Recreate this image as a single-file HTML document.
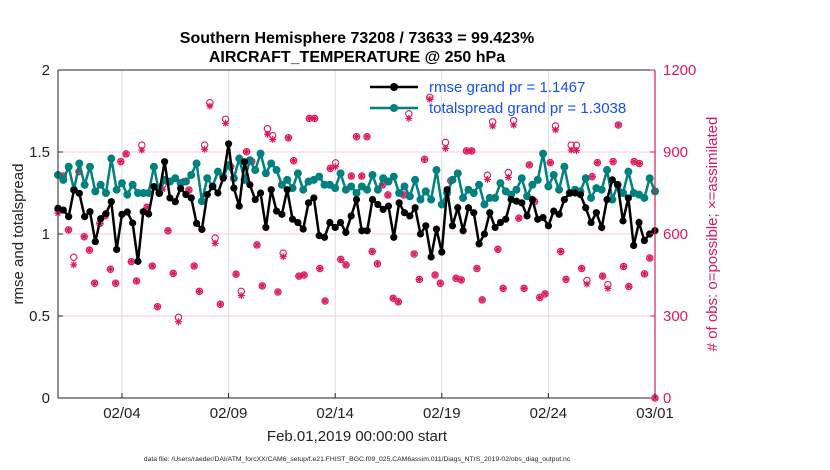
<!DOCTYPE html>
<html><head><meta charset="utf-8"><style>
body{margin:0;background:#fff;}
svg{display:block;font-family:"Liberation Sans",sans-serif;}
</style></head><body>
<svg id="chart" width="830" height="470"></svg>
<script>
const rmse=[1.157,1.146,1.106,1.268,1.248,1.106,1.136,0.953,1.093,1.124,1.197,0.906,1.12,1.134,1.067,0.833,1.136,1.122,1.289,1.248,1.441,1.22,1.197,1.278,1.24,1.22,1.065,1.028,1.24,
1.29,1.25,1.34,1.55,1.28,1.17,1.44,1.30,1.21,1.25,1.04,1.27,1.14,1.12,1.27,1.09,1.07,1.03,1.19,1.22,0.99,0.98,1.07,1.04,1.07,1.01,1.11,1.21,1.02,
1.02,1.21,1.18,1.15,1.17,0.98,1.19,1.13,1.11,1.16,1.00,1.05,0.86,1.03,0.89,1.27,1.05,1.16,1.02,1.16,1.13,0.94,1.00,1.13,1.04,1.07,1.09,1.21,1.20,
1.19,1.11,1.21,1.09,1.10,1.05,1.14,1.12,1.21,1.25,1.25,1.24,1.16,1.07,1.13,1.04,1.21,1.33,1.30,1.08,1.22,0.93,1.07,0.96,1.00,1.02];
const spread=[1.36,1.33,1.41,1.27,1.43,1.30,1.41,1.26,1.30,1.25,1.46,1.27,1.31,1.24,1.30,1.25,1.25,1.25,1.41,1.25,1.33,1.32,1.34,1.31,1.32,1.36,1.43,1.20,1.34,
1.29,1.38,1.35,1.42,1.34,1.46,1.33,1.45,1.39,1.49,1.37,1.43,1.39,1.30,1.33,1.28,1.37,1.27,1.32,1.33,1.35,1.30,1.30,1.28,1.37,1.27,1.29,1.25,1.29,
1.27,1.36,1.27,1.34,1.32,1.35,1.25,1.29,1.23,1.33,1.21,1.26,1.21,1.39,1.18,1.25,1.33,1.37,1.22,1.27,1.25,1.30,1.18,1.22,1.22,1.31,1.26,1.24,1.27,
1.34,1.23,1.30,1.33,1.49,1.29,1.36,1.27,1.41,1.25,1.27,1.26,1.34,1.22,1.28,1.27,1.39,1.21,1.30,1.25,1.38,1.25,1.24,1.22,1.34,1.26];
const obsAssim=[676,812,615,487,828,590,541,420,639,667,471,420,865,893,499,428,907,698,483,334,764,612,456,279,791,761,483,390,910,1068,
566,343,1005,846,453,375,901,865,560,410,965,946,388,517,952,868,446,450,1023,1023,474,355,840,846,507,487,812,956,
812,956,536,491,780,743,365,352,743,1023,527,434,873,1093,450,420,913,795,438,432,904,904,474,359,800,995,544,401,807,999,
658,401,853,719,368,381,861,981,536,434,907,905,474,417,810,861,446,401,865,999,481,408,865,858,454,512,0];
const obsPossible=[690,812,615,515,828,590,541,420,639,667,471,420,865,893,499,428,925,698,483,334,780,612,456,295,791,761,483,390,925,1080,
585,343,1020,846,453,390,901,865,560,410,985,960,388,530,952,868,446,450,1023,1023,474,355,840,860,507,487,812,956,
812,956,536,491,780,743,365,352,743,1040,527,434,873,1100,450,420,935,795,438,432,904,904,474,359,815,1010,544,401,825,1015,
658,401,853,719,368,381,861,995,536,434,925,925,474,430,810,861,446,415,865,999,481,408,865,858,454,512,0];
const xTickLabels=["02/04","02/09","02/14","02/19","02/24","03/01"];
const xTickDays=[3,8,13,18,23,28];
const yTickLabels=["0","0.5","1","1.5","2"];
const yTickVals=[0,0.5,1,1.5,2];
const y2TickVals=[0,300,600,900,1200];

const NS="http://www.w3.org/2000/svg";
const svg=document.getElementById('chart');
const L=58,R=655,T=70,B=398;
const xS=d=>L+d*(R-L)/28;
const yS=v=>B-v*(B-T)/2;
const y2S=v=>B-v*(B-T)/1200;
const MAG="#dc1a5a",TEAL="#00807f";
function el(tag,attrs,parent){const e=document.createElementNS(NS,tag);for(const k in attrs)e.setAttribute(k,attrs[k]);(parent||svg).appendChild(e);return e;}
function txt(s,attrs,parent){const e=el('text',attrs,parent);e.textContent=s;return e;}

const grid=el('g',{});


xTickDays.forEach(d=>{el('line',{x1:xS(d),x2:xS(d),y1:T,y2:B,stroke:'#dcdcdc','stroke-width':1},grid);});
y2TickVals.slice(1,4).forEach(v=>{el('line',{x1:L,x2:R,y1:y2S(v),y2:y2S(v),stroke:'#f7c8d8','stroke-width':1},grid);});

const obsG=el('g',{});


const nObs=obsAssim.length;
obsAssim.forEach((v,i)=>{
  const x=xS(i*28/(nObs-1)),y=y2S(v),yp=y2S(obsPossible[i]);
  const c=el('circle',{cx:x,cy:yp,r:3.2,fill:'none',stroke:MAG,'stroke-width':1.1},obsG);
  
  
  const a=el('path',{d:`M${x-3.5},${y}h7M${x},${y-3.5}v7M${x-2.5},${y-2.5}l5,5M${x-2.5},${y+2.5}l5,-5`,stroke:MAG,'stroke-width':1.2,fill:'none'},obsG);
  
  
});

function series(arr,color,name,star){
  const g=el('g',{});
  
  
  const n=arr.length;
  const pts=arr.map((v,i)=>[xS(i*28/(n-1)),yS(v)]);
  el('polyline',{points:pts.map(p=>p.join(',')).join(' '),fill:'none',stroke:color,'stroke-width':2.5},g);
  pts.forEach(p=>{
    const c=el('circle',{cx:p[0],cy:p[1],r:star?3.6:4,fill:color},g);
    
    
  });
}
series(spread,TEAL,'totalspread-line',false);
series(rmse,'#000','rmse-line',true);

el('line',{x1:L,x2:R,y1:T,y2:T,stroke:'#222','stroke-width':1});
el('line',{x1:L,x2:R,y1:B,y2:B,stroke:'#222','stroke-width':1});
el('line',{x1:L,x2:L,y1:T,y2:B,stroke:'#222','stroke-width':1});
el('line',{x1:R,x2:R,y1:T,y2:B,stroke:MAG,'stroke-width':1.2});

yTickVals.forEach((v,i)=>{
  el('line',{x1:L,x2:L+5,y1:yS(v),y2:yS(v),stroke:'#222'});
  const t=txt(yTickLabels[i],{x:L-8,y:yS(v)+5,'text-anchor':'end','font-size':15,fill:'#222'});
  
  
});
y2TickVals.forEach(v=>{
  el('line',{x1:R-5,x2:R,y1:y2S(v),y2:y2S(v),stroke:MAG});
  const t=txt(String(v),{x:R+8,y:y2S(v)+5,'font-size':15,fill:MAG});
  
  
});
xTickDays.forEach((d,i)=>{
  el('line',{x1:xS(d),x2:xS(d),y1:B,y2:B-5,stroke:'#222'});
  const t=txt(xTickLabels[i],{x:xS(d),y:B+20,'text-anchor':'middle','font-size':15,fill:'#222'});
  
  
});
</script>
<script>
(function(){
const svg=document.getElementById('chart');
const NS="http://www.w3.org/2000/svg";
function t(s,a,name){const e=document.createElementNS(NS,'text');for(const k in a)e.setAttribute(k,a[k]);e.textContent=s;


svg.appendChild(e);return e;}
t("Southern Hemisphere 73208 / 73633 = 99.423%",{x:357,y:43,'text-anchor':'middle','font-size':16,'font-weight':'bold',fill:'#000'},'chart-title');
t("AIRCRAFT_TEMPERATURE @ 250 hPa",{x:357,y:62,'text-anchor':'middle','font-size':16,'font-weight':'bold',fill:'#000'},'chart-subtitle');
t("rmse and totalspread",{x:0,y:0,transform:'translate(23,234) rotate(-90)','text-anchor':'middle','font-size':15,fill:'#222'},'y-axis-title');
t("# of obs: o=possible; \u00d7=assimilated",{x:0,y:0,transform:'translate(717,234) rotate(-90)','text-anchor':'middle','font-size':15,fill:'#dc1a5a'},'y2-axis-title');
t("Feb.01,2019 00:00:00 start",{x:357,y:441,'text-anchor':'middle','font-size':15,fill:'#222'},'x-axis-title');
t("data file: /Users/raeder/DAI/ATM_forcXX/CAM6_setup/f.e21.FHIST_BGC.f09_025.CAM6assim.011/Diags_NTrS_2019-02/obs_diag_output.nc",{x:357,y:461,'text-anchor':'middle','font-size':6.8,fill:'#222'},'data-file-note');
const lg=[["rmse grand pr = 1.1467",'#000',87],["totalspread grand pr = 1.3038",'#00807f',108]];
lg.forEach((l,i)=>{
  const g=document.createElementNS(NS,'g');
  
  
  svg.appendChild(g);
  const ln=document.createElementNS(NS,'line');
  ln.setAttribute('x1',370);ln.setAttribute('x2',418);ln.setAttribute('y1',l[2]);ln.setAttribute('y2',l[2]);
  ln.setAttribute('stroke',l[1]);ln.setAttribute('stroke-width',2.5);g.appendChild(ln);
  const c=document.createElementNS(NS,'circle');c.setAttribute('cx',394);c.setAttribute('cy',l[2]);c.setAttribute('r',4);c.setAttribute('fill',l[1]);g.appendChild(c);
  const tx=document.createElementNS(NS,'text');tx.setAttribute('x',429);tx.setAttribute('y',l[2]+5);tx.setAttribute('font-size',15);tx.setAttribute('fill','#1450f0');tx.textContent=l[0];g.appendChild(tx);
});
})();
</script>
</body></html>
